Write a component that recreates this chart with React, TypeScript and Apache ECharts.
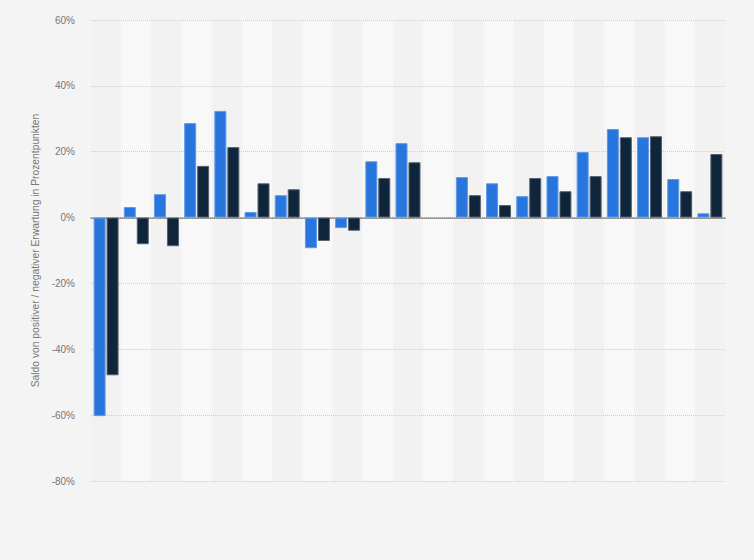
import * as echarts from 'echarts';
import { useEffect, useRef } from 'react';

// 21 Zeitpunkte, Achsenbeschriftung im Original ausgeblendet
const categories = [
  '1', '2', '3', '4', '5', '6', '7', '8', '9', '10', '11',
  '12', '13', '14', '15', '16', '17', '18', '19', '20', '21',
];

const seriesA = [
  -60.3, 3.2, 7.1, 28.7, 32.4, 1.7, 6.8, -9.3, -3.2, 17.1, 22.6,
  null, 12.3, 10.4, 6.5, 12.6, 19.9, 26.9, 24.4, 11.7, 1.3,
];

const seriesB = [
  -47.9, -8.1, -8.7, 15.7, 21.4, 10.4, 8.6, -7.1, -4.0, 12.0, 16.8,
  null, 6.8, 3.8, 12.0, 8.0, 12.6, 24.4, 24.7, 8.0, 19.3,
];

const fontFamily = '"Liberation Sans", Arial, sans-serif';

const App = () => {
  const chartRef = useRef<HTMLDivElement>(null);

  useEffect(() => {
    if (chartRef.current === null) return;
    const chart = echarts.init(chartRef.current, null, { renderer: 'svg' });

    chart.setOption({
      animation: false,
      backgroundColor: '#f4f4f4',
      textStyle: { fontFamily },
      grid: { left: 91, right: 29, top: 20, bottom: 79 },
      xAxis: {
        type: 'category',
        data: categories,
        z: 0,
        axisLabel: { show: false },
        axisTick: { show: false },
        axisLine: { onZero: true, lineStyle: { color: '#7a7a7a', width: 1.5 } },
        splitArea: {
          show: true,
          areaStyle: { color: ['#f2f2f2', '#f8f8f8'] },
        },
      },
      yAxis: {
        type: 'value',
        min: -80,
        max: 60,
        interval: 20,
        z: 1,
        name: 'Saldo von positiver / negativer Erwartung in Prozentpunkten',
        nameLocation: 'middle',
        nameGap: 38,
        nameTextStyle: { color: '#777777', fontSize: 10.3, fontFamily },
        axisLine: { show: false },
        axisTick: { show: false },
        axisLabel: {
          formatter: '{value}%',
          color: '#777777',
          fontSize: 10,
          margin: 16,
          fontFamily,
        },
        splitLine: { lineStyle: { color: '#cccccc', type: 'dotted' } },
      },
      series: [
        {
          name: 'Reihe 1',
          type: 'bar',
          data: seriesA,
          barWidth: 12,
          barGap: '8%',
          itemStyle: { color: '#2876dd', borderColor: '#5d9be6', borderWidth: 1 },
        },
        {
          name: 'Reihe 2',
          type: 'bar',
          data: seriesB,
          barWidth: 12,
          itemStyle: { color: '#0f253b', borderColor: '#56616d', borderWidth: 1 },
        },
      ],
    });

    return () => {
      chart.dispose();
    };
  }, []);

  return (
    <div
      ref={chartRef}
      style={{ position: 'fixed', left: 0, top: 0, width: 754, height: 560 }}
    ></div>
  );
};

export default App;
